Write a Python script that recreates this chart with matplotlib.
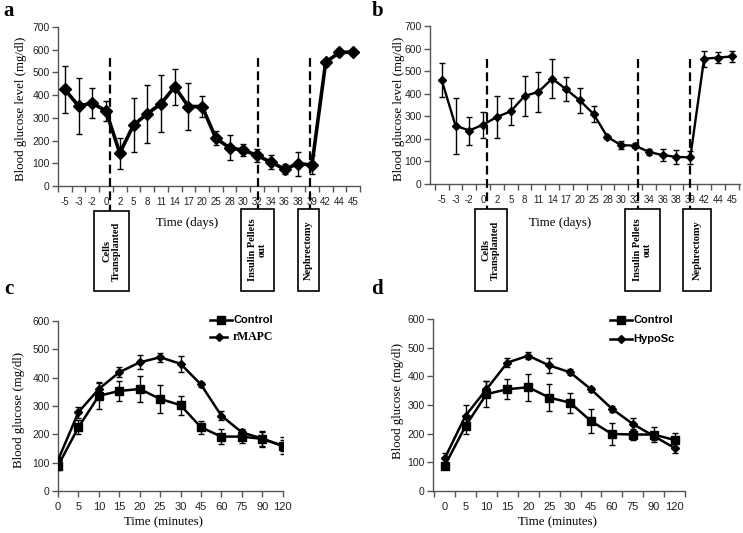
import matplotlib
matplotlib.use("Agg")
import matplotlib.pyplot as plt
from matplotlib.patches import Rectangle
from matplotlib.lines import Line2D
import matplotlib.transforms as mtrans

W, H = 743, 533

# ---------------- data ----------------
days = ["-5", "-3", "-2", "0", "2", "5", "8", "11", "14", "17", "20", "25",
        "28", "30", "32", "34", "36", "38", "39", "42", "44", "45"]
a_mean = [425, 352, 365, 330, 145, 268, 318, 362, 437, 350, 350, 210,
          168, 158, 135, 105, 75, 98, 93, 545, 588, 590]
a_err = [105, 122, 65, 45, 68, 120, 128, 125, 80, 105, 45, 30,
         55, 28, 28, 32, 22, 52, 42, 15, 15, 6]
b_mean = [460, 258, 237, 263, 297, 322, 390, 408, 467, 420, 370, 310,
          208, 172, 170, 142, 128, 120, 118, 555, 560, 565]
b_err = [75, 125, 62, 57, 95, 60, 90, 87, 85, 52, 55, 35,
         10, 18, 10, 15, 28, 32, 30, 35, 25, 25]
events = ["Cells\nTransplanted", "Insulin Pellets\nout", "Nephrectomy"]

minutes = ["0", "5", "10", "15", "20", "25", "30", "45", "60", "75", "90", "120"]
c_ctrl = [89, 225, 336, 353, 360, 325, 303, 225, 192, 192, 184, 159]
c_ctrl_err = [15, 25, 45, 35, 47, 48, 33, 23, 27, 22, 28, 30]
c_rmapc = [109, 278, 360, 419, 454, 472, 449, 376, 266, 207, 185, 160]
c_rmapc_err = [12, 20, 25, 17, 25, 15, 28, 8, 15, 12, 25, 20]

d_ctrl = [88, 227, 338, 355, 362, 326, 308, 244, 199, 197, 197, 178]
d_ctrl_err = [10, 27, 45, 35, 47, 48, 35, 42, 37, 20, 25, 25]
d_hyposc = [114, 263, 355, 448, 472, 438, 414, 355, 287, 234, 192, 150]
d_hyposc_err = [18, 38, 28, 15, 13, 25, 10, 8, 10, 20, 15, 18]

SERIF = "Liberation Serif"
SANS = "Liberation Sans"
LABEL_FS = 9.3

fig = plt.figure(figsize=(W / 100, H / 100), dpi=100)


def rect(x0, y0, x1, y1):
    return [x0 / W, 1 - y1 / H, (x1 - x0) / W, (y1 - y0) / H]


def fx(x):
    return x / W


def fy(y):
    return 1 - y / H


def style_axes(ax):
    for s in ("top", "right"):
        ax.spines[s].set_visible(False)
    for s in ("left", "bottom"):
        ax.spines[s].set_color("#555555")
        ax.spines[s].set_linewidth(1.0)
    ax.tick_params(axis="y", direction="out", length=4, width=1,
                   color="#555555", labelsize=7.5, labelcolor="#222222", pad=2)
    for lab in ax.get_yticklabels():
        lab.set_fontfamily(SANS)


def time_panel(rectpx, mean, err, lw, ms, vlines, boxes, xlim):
    ax = fig.add_axes(rect(*rectpx))
    x = list(range(len(days)))
    ax.errorbar(x, mean, yerr=err, color="black", lw=lw, marker="D", ms=ms,
                elinewidth=1.0, capsize=2.5, capthick=1.0, zorder=3)
    ax.set_xlim(*xlim)
    ax.set_ylim(0, 700)
    ax.set_yticks(range(0, 701, 100))
    style_axes(ax)
    ax.set_xticks(x)
    ax.set_xticklabels(days, fontfamily=SANS, fontsize=7, color="#222222")
    ax.tick_params(axis="x", length=0, pad=8)
    ax.set_xticks([i - 0.5 for i in range(len(days) + 1)], minor=True)
    ax.tick_params(axis="x", which="minor", direction="out", length=4,
                   width=1, color="#555555")
    trans = mtrans.blended_transform_factory(ax.transData, fig.transFigure)
    for (xv, ytop), (bx0, bx1, by0, by1), label in zip(vlines, boxes, events):
        ax.add_line(Line2D([xv, xv], [fy(ytop), fy(by0)], transform=trans,
                           color="black", lw=1.6, ls=(0, (4, 2)),
                           clip_on=False, zorder=4))
        fig.patches.append(Rectangle((fx(bx0), fy(by1)), fx(bx1) - fx(bx0),
                                     fy(by0) - fy(by1), transform=fig.transFigure,
                                     facecolor="white", edgecolor="black",
                                     lw=1.2))
        fig.text(fx((bx0 + bx1) / 2), fy((by0 + by1) / 2), label,
                 rotation=90, ha="center", va="center", fontfamily=SERIF,
                 fontweight="bold", fontsize=7.5, linespacing=1.1)
    return ax


# ---- panel a
time_panel((58, 27, 360, 186), a_mean, a_err, 2.6, 6.5,
           [(3.3, 58), (14.05, 58), (17.85, 58)],
           [(94, 129, 211, 291), (241, 274, 209, 291), (298, 319, 209, 291)],
           (-0.5, 21.5))
fig.text(fx(21), fy(109), "Blood glucose level (mg/dl)", rotation=90,
         ha="center", va="center", fontfamily=SERIF, fontsize=LABEL_FS)
fig.text(fx(187), fy(223), "Time (days)", ha="center", va="center",
         fontfamily=SERIF, fontsize=LABEL_FS)

# ---- panel b
time_panel((430, 26, 740, 184), b_mean, b_err, 1.7, 4.5,
           [(3.25, 59), (14.2, 59), (17.97, 59)],
           [(475, 507, 209, 291), (625, 660, 209, 291), (683, 711, 209, 291)],
           (-0.85, 21.6))
fig.text(fx(399), fy(109), "Blood glucose level (mg/dl)", rotation=90,
         ha="center", va="center", fontfamily=SERIF, fontsize=LABEL_FS)
fig.text(fx(560), fy(223), "Time (days)", ha="center", va="center",
         fontfamily=SERIF, fontsize=LABEL_FS)


def gtt_panel(rectpx, s1, e1, s2, e2, xlim, between):
    ax = fig.add_axes(rect(*rectpx))
    x = list(range(len(minutes)))
    ax.errorbar(x, s1, yerr=e1, color="black", lw=1.8, marker="s", ms=6,
                elinewidth=1.0, capsize=2.5, capthick=1.0, zorder=3)
    ax.errorbar(x, s2, yerr=e2, color="black", lw=1.8, marker="D", ms=4,
                elinewidth=1.0, capsize=2.5, capthick=1.0, zorder=3)
    ax.set_xlim(*xlim)
    ax.set_ylim(0, 600)
    ax.set_yticks(range(0, 601, 100))
    style_axes(ax)
    ax.set_xticks(x)
    ax.set_xticklabels(minutes, fontfamily=SANS, fontsize=8, color="#222222")
    if between:
        ax.tick_params(axis="x", length=0, pad=8)
        ax.set_xticks([i - 0.5 for i in range(len(minutes) + 1)], minor=True)
        ax.tick_params(axis="x", which="minor", direction="out", length=4,
                       width=1, color="#555555")
    else:
        ax.tick_params(axis="x", direction="out", length=4, width=1,
                       color="#555555", pad=4)
    return ax


# ---- panel c
gtt_panel((58, 321, 283, 491), c_ctrl, c_ctrl_err, c_rmapc, c_rmapc_err,
          (0, 11.02), False)
fig.text(fx(19), fy(410), "Blood glucose (mg/dl)", rotation=90,
         ha="center", va="center", fontfamily=SERIF, fontsize=LABEL_FS)
fig.text(fx(164), fy(522), "Time (minutes)", ha="center", va="center",
         fontfamily=SERIF, fontsize=LABEL_FS)
fig.lines.append(Line2D([fx(210), fx(232)], [fy(320), fy(320)],
                        transform=fig.transFigure, color="black", lw=1.8))
fig.lines.append(Line2D([fx(221)], [fy(320)], transform=fig.transFigure,
                        color="black", marker="s", ms=6))
fig.text(fx(233), fy(320), "Control", ha="left", va="center",
         fontfamily=SANS, fontweight="bold", fontsize=8)
fig.lines.append(Line2D([fx(210), fx(227)], [fy(337), fy(337)],
                        transform=fig.transFigure, color="black", lw=1.8))
fig.lines.append(Line2D([fx(218.5)], [fy(337)], transform=fig.transFigure,
                        color="black", marker="D", ms=4))
fig.text(fx(233), fy(337), "rMAPC", ha="left", va="center",
         fontfamily=SERIF, fontweight="bold", fontsize=8.5)

# ---- panel d
gtt_panel((433, 319, 685, 491), d_ctrl, d_ctrl_err, d_hyposc, d_hyposc_err,
          (-0.56, 11.2), True)
fig.text(fx(398), fy(401), "Blood glucose (mg/dl)", rotation=90,
         ha="center", va="center", fontfamily=SERIF, fontsize=LABEL_FS)
fig.text(fx(557), fy(522), "Time (minutes)", ha="center", va="center",
         fontfamily=SERIF, fontsize=LABEL_FS)
fig.lines.append(Line2D([fx(610), fx(632)], [fy(320), fy(320)],
                        transform=fig.transFigure, color="black", lw=1.8))
fig.lines.append(Line2D([fx(621)], [fy(320)], transform=fig.transFigure,
                        color="black", marker="s", ms=6))
fig.text(fx(633), fy(320), "Control", ha="left", va="center",
         fontfamily=SANS, fontweight="bold", fontsize=8)
fig.lines.append(Line2D([fx(610), fx(632)], [fy(339), fy(339)],
                        transform=fig.transFigure, color="black", lw=1.8))
fig.lines.append(Line2D([fx(621)], [fy(339)], transform=fig.transFigure,
                        color="black", marker="D", ms=4))
fig.text(fx(633), fy(339), "HypoSc", ha="left", va="center",
         fontfamily=SANS, fontweight="bold", fontsize=8)

# ---- panel letters
for letter, (px, py) in zip("abcd", [(9, 11), (378, 11), (9, 289), (377, 289)]):
    fig.text(fx(px), fy(py), letter, ha="center", va="center",
             fontfamily=SERIF, fontweight="bold", fontsize=15)

fig.savefig("out.png", dpi=100)
